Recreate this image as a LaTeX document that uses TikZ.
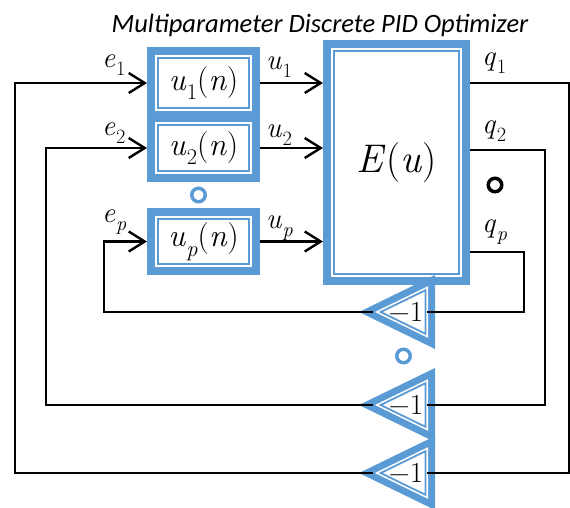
\documentclass[tikz,border=0pt]{standalone}
\usepackage{graphicx}
\usepackage{fontspec}
\newfontfamily\titlefont{Carlito}
\usetikzlibrary{arrows.meta}
\definecolor{oblue}{RGB}{91,155,213}
\newcommand{\vlab}[2]{\textit{#1}\kern0.02em\raisebox{-0.3em}{\scalebox{0.7}{#2}}}
\newcommand{\gaintri}[3]{%
  \begin{scope}[shift={(#2-23.14,#3)}]
    \fill[oblue] (-52.86,0) -- (23.14,-37) -- (23.14,37) -- cycle;
    \fill[white,scale=0.6975] (-52.86,0) -- (23.14,-37) -- (23.14,37) -- cycle;
    \draw[oblue,line width=1.8pt,line join=miter,scale=0.59] (-52.86,0) -- (23.14,-37) -- (23.14,37) -- cycle;
  \end{scope}
  \coordinate (#1a) at (#2-62,#3);
  \coordinate (#1b) at (#2-8,#3);
  \node[gainlbl] (#1t) at (#2-29,#3) {−1};
}
\tikzset{
  conn/.style={line width=2.4pt,black},
  arr/.style={conn,-{Straight Barb[length=16pt,width=20pt,line width=2.4pt]}},
  outerbox/.style={draw=oblue,line width=8pt,fill=white,rectangle,inner sep=0pt},
  innerbox/.style={draw=oblue,line width=1.8pt,rectangle,inner sep=0pt},
  boxtext/.style={font=\fontsize{32}{36}\selectfont},
  lbl/.style={anchor=base west,inner sep=0pt,font=\fontsize{29}{32}\selectfont},
  gainlbl/.style={inner sep=0pt,font=\fontsize{29}{30}\selectfont},
  ring/.style={circle,line width=3.5pt,minimum size=13.5pt,inner sep=0pt},
}
\begin{document}
\begin{tikzpicture}[x=1pt,y=-1pt]
\useasboundingbox (0,0) rectangle (570,507);
% title
\node[inner sep=0pt,anchor=base,font=\titlefont\itshape\fontsize{26.5}{30}\selectfont] (title) at (320,32) {Multiparameter Discrete PID Optimizer};
% controller boxes
\node[outerbox,minimum width=105pt,minimum height=64pt] (b1) at (203.5,83) {};
\node[innerbox,boxtext,minimum width=91pt,minimum height=50pt] (b1i) at (b1.center) {\vlab{u}{1}(\textit{n})};
\node[outerbox,minimum width=105pt,minimum height=60pt] (b2) at (203.5,148) {};
\node[innerbox,boxtext,minimum width=91pt,minimum height=46pt] (b2i) at (b2.center) {\vlab{u}{2}(\textit{n})};
\node[outerbox,minimum width=105pt,minimum height=59pt] (bp) at (203.5,241.5) {};
\node[innerbox,boxtext,minimum width=91pt,minimum height=45pt] (bpi) at (bp.center) {\vlab{u}{\textit{p}}(\textit{n})};
% plant box
\node[outerbox,minimum width=139pt,minimum height=237pt] (E) at (396.5,162.5) {};
\node[innerbox,minimum width=125pt,minimum height=223pt,font=\fontsize{40}{44}\selectfont] (Ei) at (E.center) {\textit{E}(\textit{u})};
% dots
\node[ring,draw=oblue] (dotA) at (198.5,195) {};
\node[ring,draw=black] (dotB) at (495,185) {};
\node[ring,draw=oblue] (dotC) at (403.5,356) {};
% gain triangles
\gaintri{t1}{435}{312}
\gaintri{t2}{435}{405}
\gaintri{t3}{435}{473}
% corner coordinates
\coordinate (l1) at (15,473);
\coordinate (l2) at (46,405);
\coordinate (lp) at (104,312);
\coordinate (r1) at (569,83);
\coordinate (r2) at (545,150);
\coordinate (rp) at (524,252);
% controller outputs
\draw[arr] (b1.east) -- (b1.east -| E.west);
\draw[arr] (b2.east) -- (b2.east -| E.west);
\draw[arr] (bp.east) -- (bp.east -| E.west);
% plant outputs to gains
\draw[conn] (E.east |- r1) -- (r1) |- (t3b);
\draw[conn] (E.east |- r2) -- (r2) |- (t2b);
\draw[conn] (E.east |- rp) -- (rp) |- (t1b);
% gains back to controllers
\draw[arr] (t3a) -- (l1) |- (b1.west);
\draw[arr] (t2a) -- (l2) |- (b2.west);
\draw[arr] (t1a) -- (lp) |- (bp.west);
% labels
\node[lbl] (le1) at (102,67) {\vlab{e}{1}};
\node[lbl] (le2) at (102,135) {\vlab{e}{2}};
\node[lbl] (lep) at (102,222) {\vlab{e}{\textit{p}}};
\node[lbl] (lu1) at (266,69) {\vlab{u}{1}};
\node[lbl] (lu2) at (266,137) {\vlab{u}{2}};
\node[lbl] (lup) at (266,228) {\vlab{u}{\textit{p}}};
\node[lbl] (lq1) at (482,65) {\vlab{q}{1}};
\node[lbl] (lq2) at (482,133) {\vlab{q}{2}};
\node[lbl] (lqp) at (482,232) {\vlab{q}{\textit{p}}};
\end{tikzpicture}
\end{document}
